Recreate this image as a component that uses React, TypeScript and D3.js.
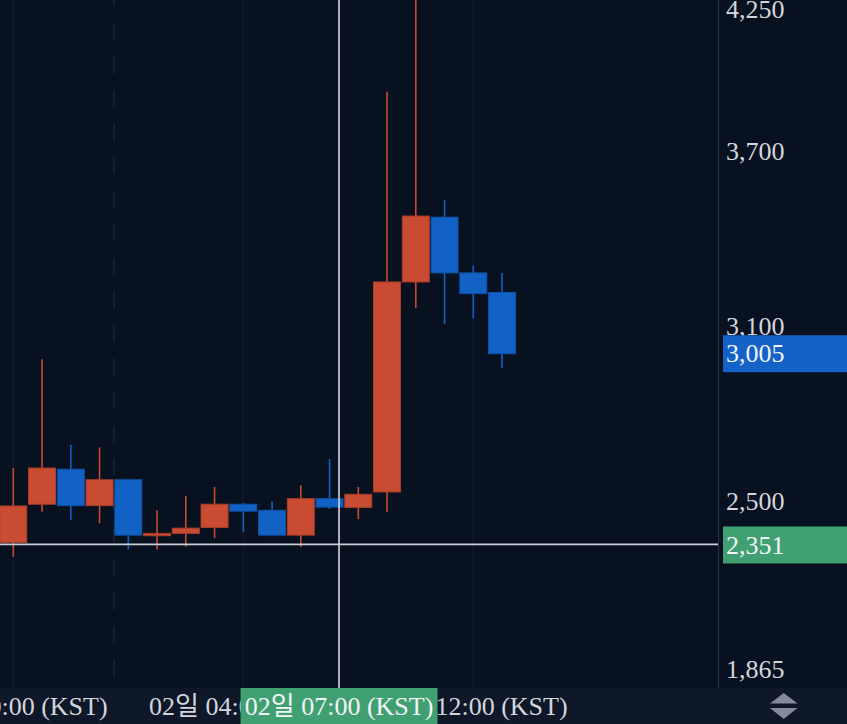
import React from "react";
import * as d3 from "d3";

// ---- data ----
const opens = [2358, 2489, 2609, 2484, 2573, 2381, 2389, 2409, 2489, 2468, 2383, 2508, 2478, 2531, 3251, 3473, 3282, 3215];
const highs = [2613, 2986, 2693, 2684, 2573, 2468, 2518, 2548, 2493, 2498, 2554, 2644, 2548, 3903, 4300, 3532, 3307, 3282];
const lows = [2309, 2463, 2434, 2424, 2334, 2334, 2343, 2373, 2393, 2378, 2343, 2473, 2438, 2462, 3162, 3107, 3126, 2955];
const closes = [2483, 2613, 2484, 2573, 2383, 2389, 2407, 2489, 2465, 2383, 2508, 2479, 2523, 3251, 3477, 3282, 3211, 3005];

const priceTicks = [4250, 3700, 3100, 2500, 1865];
const timeTickIndex = [0, 8, 16];
const timeTickLabels = ["01일 20:00 (KST)", "02일 04:00 (KST)", "02일 12:00 (KST)"];
const dayBreakIndex = [3.5];
const crosshairIndex = 11.33;
const crosshairPrice = 2351;
const crosshairTimeLabel = "02일 07:00 (KST)";
const lastPrice = closes[closes.length - 1];

// ---- layout ----
const W = 847;
const H = 724;
const plotW = 718;
const plotH = 688;

const BG = "#081120";
const BAND = "#0e1828";
const UP = "#c94b32";
const UP_EDGE = "#a93e29";
const DOWN = "#1261c4";
const DOWN_EDGE = "#0f52a8";
const TEXT = "#d3d6dd";
const FONT = "'Liberation Serif', 'Noto Sans CJK KR', serif";

const x = d3.scaleLinear().domain([-13.3 / 28.75, (plotW - 13.3) / 28.75]).range([0, plotW]);
const y = d3.scaleLinear().domain([1858.9, 4217.7]).range([plotH, 0]);

const fmt = d3.format(",");

export default function App() {
  const step = x(1) - x(0);
  const bodyW = 27;
  return (
    <svg width={W} height={H} style={{ position: "fixed", left: 0, top: 0, background: BG }}>
      <defs>
        <clipPath id="plot">
          <rect x={0} y={0} width={plotW} height={plotH} />
        </clipPath>
      </defs>
      <rect x={0} y={0} width={W} height={H} fill={BG} />
      <g clipPath="url(#plot)">
        {timeTickIndex.map((t, i) => (
          <line key={"g" + i} x1={x(t)} x2={x(t)} y1={0} y2={plotH} stroke="#131e2e" strokeWidth={1} />
        ))}
        {dayBreakIndex.map((t, i) => (
          <line key={"d" + i} x1={x(t)} x2={x(t)} y1={0} y2={plotH} stroke="#1c2839" strokeWidth={1.4}
            strokeDasharray="16.5,17" strokeDashoffset={10} />
        ))}
        {opens.map((o, i) => {
          const c = closes[i];
          const up = c >= o;
          const cx = x(i);
          const top = y(Math.max(o, c));
          const bot = y(Math.min(o, c));
          return (
            <g key={i}>
              <line x1={cx} x2={cx} y1={y(highs[i])} y2={y(lows[i])} stroke={up ? UP : DOWN} strokeWidth={1.6} />
              <rect x={cx - bodyW / 2} y={top} width={bodyW} height={Math.max(1, bot - top)}
                fill={up ? UP : DOWN} stroke={up ? UP_EDGE : DOWN_EDGE} strokeWidth={1} />
            </g>
          );
        })}
        {/* crosshair */}
        <line x1={0} x2={plotW} y1={y(crosshairPrice)} y2={y(crosshairPrice)} stroke="#c9cdd5" strokeWidth={1.7} />
        <line x1={x(crosshairIndex)} x2={x(crosshairIndex)} y1={0} y2={plotH} stroke="#c9cdd5" strokeWidth={1.7} />
      </g>
      {/* price axis separator */}
      <line x1={plotW + 0.5} x2={plotW + 0.5} y1={0} y2={plotH} stroke="#2a3546" strokeWidth={1} />
      {/* bottom band */}
      <rect x={0} y={plotH} width={W} height={H - plotH} fill={BAND} />
      {/* price ticks */}
      {priceTicks.map((p, i) => {
        const base = Math.min(plotH - 10, Math.max(18, y(p) + 8.7));
        return (
          <text key={"p" + i} x={726} y={base} fill={TEXT} fontFamily={FONT} fontSize={26}>
            {fmt(p)}
          </text>
        );
      })}
      {/* last price label */}
      <rect x={723} y={y(lastPrice) - 18.5} width={W - 723} height={37} fill="#1462c8" />
      <text x={726} y={y(lastPrice) + 8.7} fill="#f2f4f7" fontFamily={FONT} fontSize={26}>
        {fmt(lastPrice)}
      </text>
      {/* crosshair price label */}
      <rect x={723} y={y(crosshairPrice) - 18} width={W - 723} height={37} fill="#41a072" />
      <text x={726} y={y(crosshairPrice) + 9.2} fill="#f2f4f7" fontFamily={FONT} fontSize={26}>
        {fmt(crosshairPrice)}
      </text>
      {/* time ticks */}
      {timeTickIndex.map((t, i) => (
        <text key={"t" + i} x={x(t)} y={714.5} fill={TEXT} fontFamily={FONT} fontSize={26} textAnchor="middle">
          {timeTickLabels[i]}
        </text>
      ))}
      {/* crosshair time label */}
      <rect x={x(crosshairIndex) - 98.5} y={plotH} width={197} height={H - plotH} fill="#41a072" />
      <text x={x(crosshairIndex)} y={714.5} fill="#f2f4f7" fontFamily={FONT} fontSize={26} textAnchor="middle">
        {crosshairTimeLabel}
      </text>
      {/* scale arrows */}
      <path d="M770,703.5 L797.5,703.5 L783.75,693 Z" fill="#858c97" />
      <path d="M770,708 L797.5,708 L783.75,719 Z" fill="#858c97" />
    </svg>
  );
}
